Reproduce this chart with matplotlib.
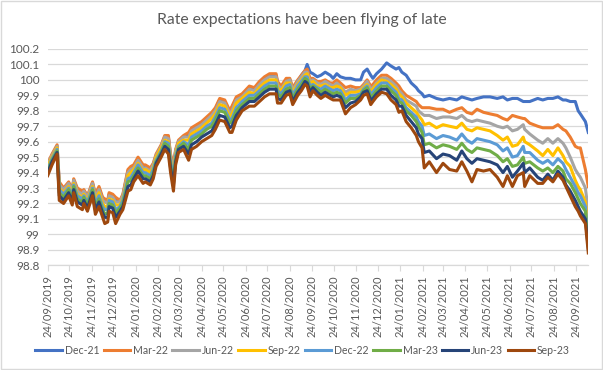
import matplotlib
matplotlib.use("Agg")
import matplotlib.pyplot as plt
import pandas as pd
from matplotlib.ticker import MultipleLocator, FuncFormatter
from matplotlib.patches import Rectangle

dates = [
 "24/09/2019","30/09/2019","07/10/2019","10/10/2019","16/10/2019","23/10/2019","28/10/2019","30/10/2019",
 "04/11/2019","11/11/2019","13/11/2019","18/11/2019","25/11/2019","29/11/2019","04/12/2019","09/12/2019",
 "12/12/2019","16/12/2019","18/12/2019","23/12/2019","27/12/2019","02/01/2020","06/01/2020","13/01/2020",
 "17/01/2020","21/01/2020","27/01/2020","03/02/2020","06/02/2020","13/02/2020","17/02/2020","21/02/2020",
 "28/02/2020","04/03/2020","09/03/2020","12/03/2020","16/03/2020","19/03/2020","23/03/2020","30/03/2020",
 "06/04/2020","10/04/2020","17/04/2020","24/04/2020","01/05/2020","08/05/2020","13/05/2020","19/05/2020",
 "26/05/2020","02/06/2020","05/06/2020","11/06/2020","19/06/2020","29/06/2020","06/07/2020","13/07/2020",
 "20/07/2020","27/07/2020","05/08/2020","07/08/2020","12/08/2020","19/08/2020","24/08/2020","28/08/2020",
 "04/09/2020","09/09/2020","14/09/2020","17/09/2020","21/09/2020","25/09/2020","01/10/2020","06/10/2020",
 "12/10/2020","19/10/2020","23/10/2020","28/10/2020","02/11/2020","09/11/2020","16/11/2020","23/11/2020",
 "30/11/2020","04/12/2020","09/12/2020","14/12/2020","17/12/2020","22/12/2020","29/12/2020","05/01/2021",
 "11/01/2021","18/01/2021","22/01/2021","26/01/2021","01/02/2021","08/02/2021","15/02/2021","18/02/2021",
 "23/02/2021","26/02/2021","05/03/2021","15/03/2021","24/03/2021","02/04/2021","12/04/2021","19/04/2021",
 "26/04/2021","03/05/2021","10/05/2021","19/05/2021","28/05/2021","07/06/2021","15/06/2021","21/06/2021",
 "28/06/2021","05/07/2021","13/07/2021","15/07/2021","22/07/2021","02/08/2021","09/08/2021","16/08/2021",
 "23/08/2021","30/08/2021","06/09/2021","10/09/2021","16/09/2021","23/09/2021","27/09/2021","30/09/2021",
 "07/10/2021","11/10/2021",
]

dec21 = [99.45,99.51,99.57,99.33,99.29,99.33,99.28,99.35,99.29,99.27,99.28,99.24,99.33,99.25,99.30,99.23,
 99.22,99.21,99.26,99.25,99.23,99.21,99.25,99.41,99.43,99.44,99.49,99.44,99.44,99.42,99.45,99.51,
 99.57,99.63,99.63,99.51,99.43,99.54,99.60,99.63,99.65,99.68,99.70,99.72,99.75,99.78,99.81,99.87,
 99.86,99.79,99.82,99.88,99.90,99.95,99.94,99.98,100.01,100.03,100.03,99.98,99.95,100.00,100.00,99.94,
 99.99,100.03,100.06,100.10,100.05,100.04,100.02,100.03,100.05,100.03,100.01,100.04,100.02,100.01,100.01,100.00,
 100.00,100.05,100.07,100.03,100.01,100.04,100.07,100.11,100.09,100.07,100.08,100.05,100.03,99.98,99.95,99.93,
 99.91,99.89,99.90,99.88,99.87,99.88,99.87,99.89,99.88,99.87,99.88,99.89,99.89,99.88,99.89,99.87,
 99.88,99.88,99.86,99.86,99.86,99.88,99.87,99.88,99.88,99.89,99.87,99.87,99.86,99.86,99.80,99.78,
 99.73,99.66]

mar22 = [99.46,99.52,99.58,99.34,99.30,99.34,99.29,99.36,99.30,99.28,99.29,99.25,99.34,99.26,99.31,99.24,
 99.23,99.22,99.27,99.26,99.24,99.22,99.26,99.42,99.44,99.45,99.50,99.45,99.45,99.43,99.46,99.52,
 99.58,99.64,99.64,99.52,99.44,99.55,99.61,99.64,99.66,99.69,99.71,99.73,99.76,99.79,99.82,99.88,
 99.87,99.80,99.83,99.89,99.91,99.96,99.95,99.99,100.02,100.04,100.04,99.99,99.96,100.01,100.01,99.95,
 100.00,100.03,100.06,100.07,100.01,100.01,99.99,99.99,100.00,99.98,99.98,100.00,99.98,99.95,99.96,99.95,
 99.95,99.97,100.00,99.96,99.97,100.00,100.03,100.03,100.01,99.98,99.96,99.93,99.90,99.88,99.86,99.84,
 99.82,99.82,99.82,99.81,99.81,99.79,99.81,99.82,99.79,99.78,99.81,99.79,99.78,99.77,99.75,99.74,
 99.77,99.76,99.75,99.75,99.72,99.70,99.69,99.69,99.69,99.71,99.68,99.67,99.63,99.57,99.56,99.56,
 99.42,99.31]

jun22 = [99.45,99.51,99.57,99.32,99.29,99.33,99.28,99.35,99.28,99.26,99.28,99.24,99.33,99.24,99.29,99.22,
 99.21,99.20,99.25,99.24,99.21,99.21,99.25,99.40,99.42,99.43,99.48,99.43,99.43,99.41,99.45,99.51,
 99.57,99.63,99.62,99.50,99.42,99.54,99.60,99.63,99.63,99.67,99.69,99.71,99.74,99.77,99.80,99.86,
 99.85,99.78,99.80,99.87,99.89,99.94,99.93,99.97,100.00,100.02,100.02,99.97,99.94,99.99,100.00,99.93,
 99.99,100.02,100.05,100.05,99.99,100.00,99.98,99.97,99.99,99.97,99.96,99.98,99.96,99.92,99.94,99.93,
 99.94,99.96,99.99,99.94,99.95,99.98,100.01,100.01,99.99,99.96,99.93,99.91,99.87,99.85,99.83,99.80,
 99.78,99.77,99.77,99.75,99.76,99.76,99.75,99.77,99.74,99.73,99.74,99.73,99.72,99.70,99.69,99.70,
 99.67,99.68,99.71,99.68,99.65,99.61,99.59,99.62,99.59,99.62,99.59,99.56,99.50,99.42,99.39,99.37,
 99.30,99.15]

sep22 = [99.44,99.50,99.56,99.30,99.27,99.31,99.26,99.33,99.26,99.24,99.26,99.22,99.31,99.22,99.27,99.20,
 99.18,99.18,99.23,99.22,99.19,99.19,99.23,99.38,99.40,99.42,99.46,99.41,99.42,99.40,99.43,99.50,
 99.56,99.61,99.60,99.48,99.39,99.52,99.59,99.61,99.61,99.65,99.67,99.69,99.72,99.75,99.78,99.84,
 99.83,99.76,99.78,99.85,99.88,99.92,99.91,99.95,99.98,100.00,100.00,99.95,99.93,99.98,99.98,99.92,
 99.97,100.00,100.03,100.04,99.97,99.99,99.96,99.96,99.97,99.95,99.95,99.96,99.95,99.90,99.92,99.92,
 99.93,99.95,99.97,99.92,99.94,99.97,100.00,99.99,99.97,99.94,99.91,99.89,99.85,99.82,99.79,99.77,
 99.74,99.71,99.72,99.69,99.71,99.70,99.69,99.72,99.68,99.67,99.69,99.68,99.67,99.64,99.61,99.63,
 99.57,99.58,99.63,99.60,99.58,99.54,99.51,99.55,99.51,99.56,99.51,99.47,99.44,99.35,99.31,99.29,
 99.21,99.03]

dec22 = [99.42,99.49,99.55,99.29,99.26,99.30,99.25,99.32,99.25,99.23,99.25,99.21,99.30,99.20,99.25,99.18,
 99.16,99.16,99.22,99.21,99.16,99.18,99.22,99.36,99.37,99.40,99.45,99.40,99.40,99.38,99.42,99.48,
 99.54,99.60,99.59,99.47,99.37,99.51,99.57,99.60,99.58,99.63,99.65,99.67,99.70,99.72,99.76,99.82,
 99.81,99.74,99.75,99.82,99.86,99.90,99.90,99.93,99.96,99.98,99.98,99.93,99.91,99.96,99.97,99.90,
 99.96,99.99,100.02,100.02,99.96,99.97,99.95,99.94,99.96,99.94,99.93,99.94,99.93,99.87,99.90,99.90,
 99.91,99.94,99.96,99.91,99.92,99.95,99.98,99.98,99.95,99.92,99.88,99.87,99.82,99.79,99.76,99.73,
 99.70,99.64,99.65,99.62,99.64,99.63,99.61,99.65,99.61,99.59,99.62,99.61,99.60,99.58,99.54,99.56,
 99.50,99.51,99.57,99.53,99.53,99.48,99.46,99.48,99.45,99.49,99.46,99.42,99.37,99.31,99.27,99.25,
 99.18,98.96]

mar23 = [99.41,99.48,99.54,99.27,99.24,99.29,99.23,99.31,99.23,99.21,99.24,99.19,99.29,99.18,99.23,99.16,
 99.13,99.14,99.20,99.19,99.14,99.17,99.20,99.34,99.35,99.38,99.43,99.38,99.38,99.36,99.40,99.47,
 99.53,99.59,99.57,99.45,99.34,99.49,99.56,99.59,99.55,99.61,99.63,99.65,99.68,99.70,99.74,99.80,
 99.79,99.72,99.73,99.80,99.84,99.88,99.88,99.91,99.94,99.96,99.96,99.91,99.89,99.94,99.95,99.88,
 99.94,99.97,100.01,100.00,99.94,99.96,99.94,99.92,99.94,99.92,99.91,99.92,99.91,99.85,99.88,99.88,
 99.90,99.93,99.95,99.89,99.90,99.93,99.96,99.96,99.93,99.90,99.86,99.85,99.80,99.77,99.73,99.70,
 99.66,99.58,99.59,99.56,99.58,99.57,99.55,99.59,99.55,99.53,99.56,99.55,99.54,99.51,99.47,99.49,
 99.44,99.45,99.50,99.46,99.47,99.43,99.41,99.43,99.40,99.44,99.41,99.36,99.33,99.27,99.23,99.20,
 99.15,98.93]

jun23 = [99.40,99.47,99.53,99.25,99.22,99.27,99.21,99.29,99.21,99.19,99.22,99.17,99.27,99.16,99.21,99.14,
 99.11,99.11,99.18,99.17,99.11,99.15,99.18,99.31,99.32,99.36,99.41,99.36,99.36,99.34,99.38,99.46,
 99.52,99.57,99.55,99.43,99.32,99.47,99.55,99.57,99.52,99.58,99.60,99.63,99.65,99.67,99.71,99.77,
 99.76,99.69,99.70,99.77,99.82,99.86,99.86,99.89,99.92,99.94,99.94,99.88,99.87,99.92,99.93,99.86,
 99.92,99.95,99.99,99.98,99.92,99.95,99.92,99.90,99.92,99.90,99.89,99.90,99.89,99.82,99.85,99.86,
 99.89,99.92,99.93,99.87,99.88,99.91,99.94,99.94,99.90,99.87,99.83,99.83,99.77,99.73,99.69,99.65,
 99.62,99.53,99.54,99.49,99.52,99.51,99.48,99.54,99.49,99.46,99.49,99.48,99.47,99.45,99.40,99.44,
 99.37,99.41,99.46,99.40,99.43,99.37,99.35,99.39,99.35,99.41,99.37,99.32,99.28,99.22,99.18,99.15,
 99.10,98.91]

sep23 = [99.38,99.45,99.52,99.22,99.20,99.25,99.19,99.27,99.18,99.16,99.20,99.15,99.25,99.13,99.18,99.11,
 99.07,99.08,99.15,99.14,99.07,99.13,99.16,99.28,99.29,99.34,99.38,99.33,99.34,99.32,99.36,99.44,
 99.50,99.55,99.52,99.40,99.28,99.45,99.53,99.55,99.48,99.55,99.57,99.60,99.62,99.64,99.68,99.74,
 99.73,99.66,99.66,99.74,99.80,99.83,99.83,99.86,99.89,99.91,99.91,99.85,99.85,99.90,99.91,99.84,
 99.90,99.93,99.97,99.96,99.89,99.93,99.90,99.88,99.90,99.88,99.87,99.87,99.87,99.78,99.82,99.84,
 99.87,99.90,99.91,99.84,99.86,99.89,99.92,99.91,99.87,99.84,99.79,99.80,99.73,99.69,99.64,99.60,
 99.56,99.43,99.47,99.40,99.46,99.42,99.41,99.47,99.41,99.34,99.42,99.41,99.42,99.37,99.31,99.38,
 99.31,99.38,99.40,99.31,99.38,99.33,99.33,99.37,99.34,99.39,99.35,99.31,99.25,99.18,99.15,99.12,
 99.07,98.88]

series_names = ["Dec-21", "Mar-22", "Jun-22", "Sep-22", "Dec-22", "Mar-23", "Jun-23", "Sep-23"]
series_values = [dec21, mar22, jun22, sep22, dec22, mar23, jun23, sep23]
colors = ["#4472C4", "#ED7D31", "#A5A5A5", "#FFC000", "#5B9BD5", "#70AD47", "#264478", "#9E480E"]

tick_labels = ["24/09/2019","24/10/2019","24/11/2019","24/12/2019","24/01/2020","24/02/2020","24/03/2020",
 "24/04/2020","24/05/2020","24/06/2020","24/07/2020","24/08/2020","24/09/2020","24/10/2020","24/11/2020",
 "24/12/2020","24/01/2021","24/02/2021","24/03/2021","24/04/2021","24/05/2021","24/06/2021","24/07/2021",
 "24/08/2021","24/09/2021"]

title = "Rate expectations have been flying of late"

plt.rcParams['font.family'] = ['Lato', 'DejaVu Sans']
txt = "#595959"

x = pd.to_datetime(dates, format="%d/%m/%Y")
ticks = pd.to_datetime(tick_labels, format="%d/%m/%Y")

fig = plt.figure(figsize=(6.03, 3.70), dpi=100)
ax = fig.add_axes([0.0791, 0.2830, 0.8965, 0.5846])

for name, vals, c in zip(series_names, series_values, colors):
    ax.plot(x, vals, color=c, lw=2.2, label=name, solid_joinstyle='round')

ax.set_xlim(x[0], x[-1])
ax.set_ylim(98.8, 100.2)
ax.yaxis.set_major_locator(MultipleLocator(0.1))
ax.yaxis.set_major_formatter(FuncFormatter(lambda v, p: f"{round(v, 1):g}"))
ax.set_xticks(ticks)
ax.set_xticklabels(tick_labels, rotation=90)

ax.yaxis.grid(True, color="#D9D9D9", lw=0.9)
ax.set_axisbelow(True)
for s in ["top", "right", "left"]:
    ax.spines[s].set_visible(False)
ax.spines["bottom"].set_color("#D9D9D9")
ax.spines["bottom"].set_linewidth(0.9)
ax.tick_params(axis="y", length=0, labelsize=8.5, labelcolor=txt, pad=6)
ax.tick_params(axis="x", direction="out", length=4, color="#D9D9D9", labelsize=8.0, labelcolor=txt, pad=3)

fig.text(0.5, 0.945, title, ha="center", va="center", fontsize=11.3, color=txt)

leg = fig.legend(loc="center", bbox_to_anchor=(0.502, 0.054), ncol=8, frameon=False,
                 fontsize=7.6, handlelength=2.5, handletextpad=0.3, columnspacing=0.4,
                 labelcolor=txt)
for h in leg.get_lines():
    h.set_linewidth(2.2)

fig.patches.append(Rectangle((0.001, 0.002), 0.997, 0.995, transform=fig.transFigure,
                             fill=False, edgecolor="#D9D9D9", lw=1))

fig.savefig("out.png", dpi=100)
